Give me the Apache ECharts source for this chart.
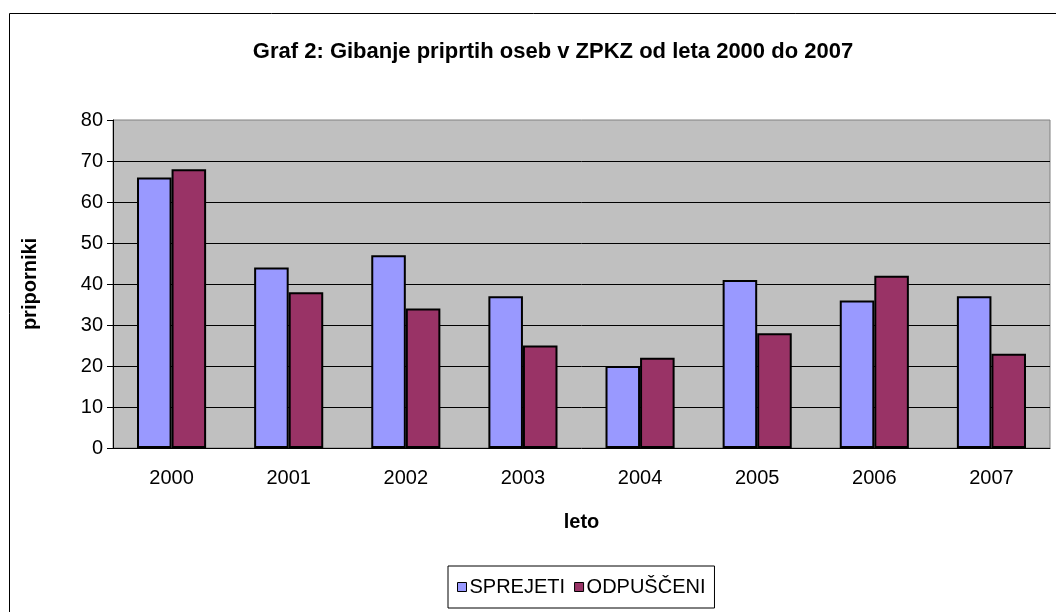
<!DOCTYPE html>
<html lang="sl">
<head>
  <meta charset="UTF-8">
  <title>Graf 2</title>
  <script src="https://cdn.jsdelivr.net/npm/echarts@6/dist/echarts.min.js"></script>
  <style>
    body { margin: 0; background: #fff; }
    #chart { width: 1056px; height: 612px; }
  </style>
</head>
<body>
<div id="chart"></div>
<script>
  const years = ['2000', '2001', '2002', '2003', '2004', '2005', '2006', '2007'];
  const sprejeti = [66, 44, 47, 37, 20, 41, 36, 37];
  const odpusceni = [68, 38, 34, 25, 22, 28, 42, 23];

  let myChart = echarts.init(document.getElementById('chart'));
  let font = 'Liberation Sans, Arial, sans-serif';
  let option = {
    animation: false,
    textStyle: { fontFamily: font, color: '#000' },
    title: {
      text: 'Graf 2: Gibanje priprtih oseb v ZPKZ od leta 2000 do 2007',
      left: 548, top: 36, textAlign: 'center',
      textStyle: { fontSize: 22, fontWeight: 'bold', fontFamily: font, color: '#000' }
    },
    graphic: [{
      // okvir grafa
      type: 'rect', silent: true, z: -1,
      shape: { x: 9.5, y: 13.5, width: 1060, height: 620 },
      style: { fill: '#fff', stroke: '#000', lineWidth: 1 }
    }],
    legend: {
      data: ['SPREJETI', 'ODPUŠČENI'],
      left: 448, top: 566,
      backgroundColor: '#fff', borderColor: '#000', borderWidth: 1,
      padding: [11, 9, 11, 9],
      icon: 'rect', itemWidth: 9, itemHeight: 9, itemGap: 9,
      itemStyle: { borderColor: '#000', borderWidth: 1 },
      textStyle: { fontSize: 20, fontFamily: font, color: '#000', padding: [0, 0, 0, -2] }
    },
    grid: {
      left: 113, right: 6, top: 120, bottom: 164,
      show: true, backgroundColor: '#C0C0C0', borderColor: '#808080', borderWidth: 1
    },
    xAxis: {
      type: 'category', data: years,
      name: 'leto', nameLocation: 'middle', nameGap: 64,
      nameTextStyle: { fontSize: 20, fontWeight: 'bold', fontFamily: font, color: '#000' },
      axisLine: { lineStyle: { color: '#000', width: 1 } },
      axisTick: { length: 6, lineStyle: { color: '#000' } },
      axisLabel: { fontSize: 20, color: '#000', margin: 20 }
    },
    yAxis: {
      type: 'value', min: 0, max: 80, interval: 10,
      name: 'priporniki', nameLocation: 'middle', nameGap: 73,
      nameTextStyle: { fontSize: 20, fontWeight: 'bold', fontFamily: font, color: '#000' },
      axisLine: { show: true, lineStyle: { color: '#000', width: 1 } },
      axisTick: { show: true, length: 6, lineStyle: { color: '#000' } },
      axisLabel: { fontSize: 20, color: '#000', margin: 10 },
      splitLine: { show: true, showMinLine: false, showMaxLine: false, lineStyle: { color: '#000', width: 1 } }
    },
    series: [
      {
        name: 'SPREJETI', type: 'bar', data: sprejeti,
        barGap: '0%', barCategoryGap: '41%',
        itemStyle: { color: '#9999FF', borderColor: '#000', borderWidth: 2 }
      },
      {
        name: 'ODPUŠČENI', type: 'bar', data: odpusceni,
        itemStyle: { color: '#993366', borderColor: '#000', borderWidth: 2 }
      }
    ]
  };
  myChart.setOption(option);
</script>
</body>
</html>
